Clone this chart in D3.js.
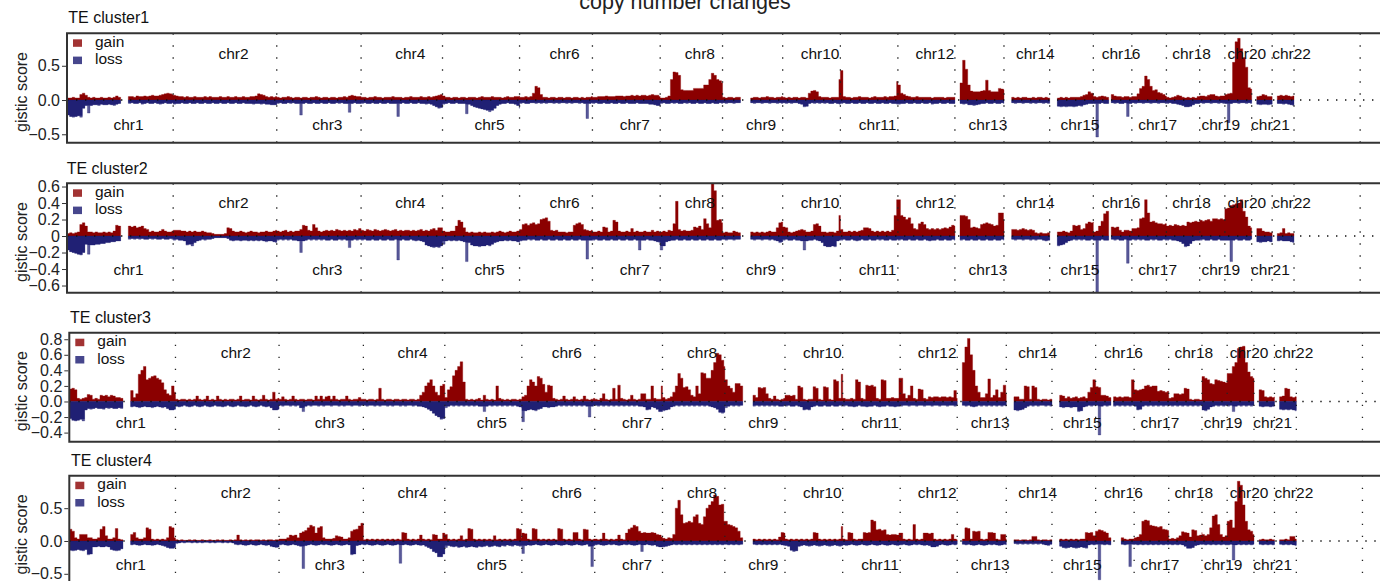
<!DOCTYPE html>
<html>
<head>
<meta charset="utf-8">
<script src="https://cdn.jsdelivr.net/npm/d3@7"></script>
<style>
  body { margin: 0; background: #fff; }
  svg { display: block; font-family: "Liberation Sans", Arial, Helvetica, sans-serif; }
</style>
</head>
<body>
<svg id="chart" width="1380" height="581"></svg>
<script>
// ---------------------------------------------------------------
// Genome layout (hg19, Mb). chrX / chrY carry no scores.
// ---------------------------------------------------------------
const _ = null; // no probes in this bin (centromere / acrocentric arm)
const chromNames = ["chr1","chr2","chr3","chr4","chr5","chr6","chr7","chr8","chr9","chr10","chr11","chr12",
  "chr13","chr14","chr15","chr16","chr17","chr18","chr19","chr20","chr21","chr22","chrX","chrY"];
const chromLengthMb = [249.3,243.2,198.0,191.2,180.9,171.1,159.1,146.4,141.2,135.5,135.0,133.9,
  115.2,107.3,102.5,90.4,81.2,78.1,59.1,63.0,48.1,51.3,155.3,59.4];
const binMb = 6; // each score below covers one 6 Mb bin along its chromosome

const panelTitles = ["TE cluster1","TE cluster2","TE cluster3","TE cluster4"];
const seriesNames = ["gain","loss"];

// GISTIC scores x100, one array per chromosome (chr1..chr22)
const gain1 = [
 [3,3,4,3,3,8,10,7,4,3,4,3,3,4,3,3,4,3,4,6,4,_,_,_,5,5,4,6,5,5,6,5,6,7,6,6,7,8,9,10,9,8],
 [7,6,5,5,4,5,4,4,5,4,4,4,5,4,5,4,4,4,5,4,4,5,4,4,5,4,4,5,4,4,5,5,6,9,8,7,5,4,5,4,5],
 [4,3,4,4,5,4,3,4,4,3,4,4,3,4,4,5,4,3,4,4,3,4,4,3,4,4,5,4,6,7,6,5,5],
 [4,4,3,4,4,5,4,4,3,4,4,4,5,4,4,4,3,4,4,5,4,4,4,5,4,4,5,4,5,6,7,8],
 [6,4,4,3,4,4,3,4,4,3,4,4,4,3,4,5,4,4,4,5,4,4,4,3,4,5,4,4,5,5,6],
 [4,4,5,4,5,10,20,18,8,4,4,3,4,4,3,4,4,3,4,4,3,4,4,3,4,3,4,4,5],
 [4,4,5,5,5,6,5,5,5,6,6,6,5,6,6,7,6,7,6,7,7,6,7,8,7,7,5],
 [3,3,4,6,30,41,40,36,15,14,14,14,14,17,17,17,17,22,22,30,39,36,30,28,25],
 [4,3,4,4,3,4,4,_,_,_,_,3,4,4,3,4,4,5,4,4,3,4,4,5],
 [4,3,4,3,4,4,3,4,4,3,10,13,14,12,5,4,4,4,3,4,4,4,30],
 [43,5,4,4,3,4,4,5,4,4,4,3,4,5,4,4,4,5,4,5,5,6,27],
 [22,10,8,6,5,4,4,5,4,4,4,4,4,3,4,4,4,4,3,4,4,4,4],
 [_,_,25,58,45,22,13,12,12,12,13,14,29,14,12,12,12,17,16,15],
 [_,_,_,4,3,4,3,4,4,3,3,4,3,4,4,3,4,3],
 [_,_,_,3,4,3,4,3,4,4,4,4,5,7,8,12,10,9],
 [5,4,5,6,5,4,_,8,6,5,5,4,5,5,4,5],
 [5,5,9,17,20,35,30,20,14,15,11,10,8,6],
 [4,3,4,5,7,6,4,3,4,3,4,3,5,5],
 [6,6,5,7,8,8,6,5,6,6],
 [8,9,10,55,85,90,75,62,48,18,16],
 [_,_,5,6,8,7,5,5,4],
 [_,_,6,7,6,7,6,5,6]
];
const loss1 = [
 [-22,-24,-25,-24,-23,-25,-12,-8,-19,-8,-7,-7,-8,-6,-7,-7,-6,-7,-8,-6,-5,_,_,_,-5,-4,-5,-5,-4,-6,-5,-4,-5,-5,-4,-5,-6,-5,-4,-5,-5,-4],
 [-6,-5,-5,-4,-5,-5,-4,-5,-5,-4,-5,-5,-4,-5,-5,-4,-5,-5,-4,-5,-5,-4,-5,-5,-4,-5,-5,-4,-5,-5,-5,-6,-5,-5,-6,-5,-6,-6,-7,-7,-7],
 [-5,-4,-5,-5,-4,-5,-4,-5,-5,-22,-5,-4,-5,-5,-4,-5,-5,-4,-5,-5,-4,-5,-5,-4,-5,-4,-5,-5,-18,-5,-4,-5,-5],
 [-5,-4,-5,-5,-4,-5,-5,-4,-5,-5,-4,-5,-5,-5,-24,-5,-4,-5,-5,-4,-5,-5,-4,-5,-5,-6,-5,-6,-8,-10,-12,-11],
 [-6,-5,-4,-5,-5,-4,-5,-5,-5,-20,-6,-8,-10,-11,-12,-13,-14,-15,-17,-15,-12,-8,-6,-5,-5,-4,-5,-5,-6,-8,-12],
 [-5,-4,-5,-5,-4,-4,-5,-4,-5,-4,-5,-4,-4,-5,-4,-5,-4,-4,-5,-4,-5,-4,-4,-5,-4,-5,-27,-5,-4],
 [-5,-4,-5,-5,-4,-5,-5,-4,-5,-5,-4,-5,-5,-4,-5,-5,-5,-4,-5,-5,-5,-5,-6,-6,-7,-8,-8],
 [-5,-4,-5,-5,-4,-5,-4,-5,-5,-4,-5,-4,-5,-5,-4,-5,-5,-4,-5,-5,-4,-5,-5,-4,-5],
 [-4,-5,-4,-4,-5,-4,-4,_,_,_,_,-4,-5,-4,-4,-5,-4,-4,-5,-4,-4,-5,-4,-5],
 [-4,-5,-4,-5,-4,-4,-5,-6,-10,-9,-5,-4,-5,-4,-5,-4,-5,-4,-5,-5,-4,-5,-6],
 [-5,-4,-5,-5,-4,-5,-5,-4,-5,-5,-4,-5,-5,-4,-5,-5,-4,-5,-5,-4,-5,-5,-6],
 [-6,-5,-5,-4,-5,-5,-4,-5,-5,-4,-5,-5,-4,-6,-5,-5,-4,-5,-5,-4,-5,-5,-5],
 [_,_,-5,-6,-5,-7,-7,-8,-7,-6,-5,-5,-4,-5,-5,-4,-5,-5,-4,-5],
 [_,_,_,-4,-5,-4,-4,-5,-4,-4,-5,-4,-5,-4,-4,-5,-4,-5],
 [_,_,_,-9,-10,-9,-10,-9,-9,-10,-9,-8,-9,-7,-6,-5,-5,-4],
 [-5,-54,-5,-4,-5,-5,_,-4,-5,-4,-5,-5,-4,-24,-5,-5],
 [-4,-5,-4,-4,-5,-4,-4,-5,-4,-4,-5,-4,-4,-5],
 [-5,-4,-5,-5,-6,-7,-8,-10,-10,-9,-7,-5,-5,-4],
 [-4,-5,-4,-4,-5,-4,-4,-5,-4,-5],
 [-5,-33,-5,-4,-4,-5,-4,-4,-5,-4,-5],
 [_,_,-6,-7,-6,-6,-7,-6,-6],
 [_,_,-5,-5,-6,-5,-6,-7,-8]
];
const gain2 = [
 [3,4,3,4,5,14,16,12,5,5,4,5,4,4,5,4,5,4,6,13,12,_,_,_,12,11,12,10,11,12,9,8,5,6,5,5,6,8,6,5,5,6],
 [7,7,7,6,6,5,6,5,6,5,5,6,5,4,4,3,2,2,2,2,3,10,9,6,5,5,6,5,4,5,6,5,5,4,5,5,6,5,5,6,7],
 [6,5,6,7,5,6,5,6,6,8,13,12,7,6,14,10,6,5,6,7,6,7,6,8,7,6,7,6,7,6,8,7,9],
 [7,6,8,7,6,8,7,6,7,8,7,6,7,8,6,7,6,7,7,6,7,6,7,8,6,7,6,8,9,7,10,10],
 [6,5,5,6,6,12,19,17,10,5,4,5,4,4,5,4,5,4,4,5,4,5,6,5,4,5,6,5,5,6,7],
 [8,14,15,13,15,16,14,15,20,21,22,18,7,6,7,5,5,5,4,5,5,13,15,16,14,8,7,6,7],
 [5,5,6,5,11,10,5,6,19,17,6,5,5,6,5,9,5,6,5,5,6,5,5,7,5,6,5],
 [5,6,5,7,6,15,42,8,6,7,6,6,7,11,10,12,8,21,15,10,64,55,19,20,16],
 [4,5,4,4,6,5,4,_,_,_,_,5,4,5,4,5,4,5,6,5,5,10,16,17],
 [11,10,5,4,5,6,7,8,7,5,5,6,14,15,12,5,5,4,5,5,4,6,25],
 [8,5,5,6,5,6,5,6,7,10,10,9,6,5,6,5,6,5,6,5,7,25,44],
 [44,25,23,20,22,15,9,8,15,17,14,9,8,9,8,9,8,9,10,9,11,13,12],
 [_,_,25,25,24,20,10,11,10,9,14,15,16,15,14,12,13,28,28,20],
 [_,_,_,8,8,7,8,9,8,7,8,7,4,3,4,3,3,4],
 [_,_,_,5,5,6,5,4,6,13,12,13,8,9,15,17,16,17],
 [5,6,12,18,27,30,_,11,10,11,7,5,7,7,6,5],
 [9,9,10,21,22,44,28,17,18,16,15,15,14,15],
 [12,13,12,14,13,12,13,12,17,16,17,18,17,16],
 [19,18,19,20,18,21,21,20,21,20],
 [33,34,37,38,39,40,44,30,23,12,10],
 [_,_,9,9,6,5,5,4,5],
 [_,_,3,4,9,3,4,3,3]
];
const loss2 = [
 [-17,-19,-20,-21,-22,-23,-20,-10,-22,-11,-11,-10,-10,-9,-9,-8,-8,-7,-7,-6,-6,_,_,_,-4,-3,-4,-3,-4,-3,-4,-4,-3,-4,-3,-4,-4,-3,-4,-4,-3,-4],
 [-5,-4,-5,-5,-6,-11,-10,-12,-8,-6,-5,-4,-5,-4,-4,-3,-2,-2,-2,-2,-2,-3,-5,-6,-5,-5,-6,-5,-5,-6,-5,-6,-5,-6,-5,-6,-7,-6,-6,-7,-8],
 [-5,-4,-5,-4,-5,-4,-5,-5,-6,-20,-6,-5,-4,-5,-4,-5,-4,-5,-4,-5,-5,-4,-5,-5,-4,-5,-4,-5,-14,-5,-4,-5,-4],
 [-5,-4,-5,-5,-4,-5,-5,-4,-5,-5,-4,-5,-5,-4,-29,-5,-4,-5,-5,-4,-5,-6,-5,-6,-7,-11,-12,-13,-14,-13,-14,-12],
 [-10,-6,-5,-6,-5,-6,-5,-6,-7,-31,-8,-11,-12,-12,-13,-12,-12,-11,-12,-10,-8,-7,-6,-6,-5,-6,-5,-6,-6,-7,-8],
 [-6,-5,-5,-4,-5,-4,-5,-5,-4,-5,-5,-4,-5,-5,-4,-5,-5,-4,-5,-5,-4,-5,-5,-4,-5,-5,-28,-5,-5],
 [-5,-4,-5,-5,-4,-5,-5,-4,-5,-5,-4,-5,-5,-4,-5,-5,-4,-5,-17,-5,-5,-4,-5,-5,-6,-7,-8],
 [-17,-12,-7,-6,-5,-5,-4,-5,-5,-4,-5,-5,-4,-5,-5,-4,-5,-5,-4,-5,-5,-4,-5,-5,-4],
 [-4,-5,-4,-4,-5,-4,-4,_,_,_,_,-4,-5,-4,-4,-5,-4,-4,-5,-4,-5,-6,-8,-7],
 [-5,-4,-5,-5,-4,-5,-5,-6,-17,-6,-5,-5,-4,-5,-6,-8,-12,-13,-13,-12,-13,-6,-5],
 [-5,-4,-5,-5,-4,-5,-6,-5,-4,-5,-5,-4,-5,-5,-4,-5,-4,-5,-5,-4,-5,-5,-4],
 [-5,-4,-5,-5,-4,-5,-5,-4,-5,-5,-4,-5,-6,-5,-5,-4,-5,-5,-4,-5,-5,-4,-5],
 [_,_,-5,-4,-5,-5,-4,-5,-5,-4,-5,-5,-4,-5,-5,-4,-5,-5,-4,-5],
 [_,_,_,-4,-5,-4,-4,-5,-4,-4,-5,-4,-5,-4,-4,-5,-6,-5],
 [_,_,_,-12,-11,-10,-8,-6,-5,-4,-5,-4,-5,-4,-5,-5,-4,-5],
 [-5,-69,-5,-4,-5,-5,_,-4,-5,-4,-5,-5,-4,-33,-5,-4],
 [-4,-5,-4,-5,-4,-5,-5,-4,-5,-4,-5,-5,-4,-5],
 [-5,-4,-5,-5,-6,-7,-9,-13,-12,-9,-6,-5,-5,-4],
 [-5,-4,-5,-5,-4,-5,-5,-4,-5,-5],
 [-5,-5,-31,-5,-4,-5,-5,-4,-5,-5,-4],
 [_,_,-7,-8,-7,-7,-6,-7,-7],
 [_,_,-6,-5,-6,-6,-6,-7,-8]
];
const gain3 = [
 [16,17,15,4,3,4,5,9,8,3,4,3,8,7,8,6,8,7,5,5,4,_,_,_,14,5,10,35,40,45,28,30,32,33,30,28,24,15,10,8,20,12],
 [3,2,3,3,2,3,2,3,7,3,2,3,7,2,3,2,7,3,2,3,2,3,3,2,3,7,2,3,3,2,7,3,2,3,8,3,2,3,12,3,4],
 [3,6,3,2,3,7,3,2,3,3,2,3,3,2,7,3,7,3,6,7,3,7,3,2,3,3,7,3,2,3,3,5,3],
 [3,2,3,3,2,3,17,3,2,3,3,2,3,3,2,3,3,2,3,3,2,3,8,12,20,24,28,20,12,8,20,22],
 [5,15,19,33,40,45,51,25,3,2,3,2,3,4,2,8,3,2,3,2,20,4,3,2,3,2,3,3,2,3,3],
 [6,8,20,28,25,20,32,30,22,12,21,20,4,3,2,3,7,3,2,3,6,3,2,3,7,3,2,3,4],
 [3,2,4,10,3,2,3,17,3,21,4,3,2,3,8,3,2,3,10,10,3,3,20,4,3,3,20],
 [5,3,4,6,12,20,36,30,18,19,15,8,6,20,10,37,36,30,30,40,50,62,60,53,45],
 [28,20,17,12,23,23,20,_,_,_,_,8,5,18,17,18,10,4,3,7,3,2,3,4],
 [8,8,7,8,3,20,18,3,2,3,3,19,17,3,2,19,18,3,2,28,26,4,35],
 [4,3,3,4,3,28,25,4,3,21,20,21,19,4,3,28,27,4,4,5,4,4,30],
 [30,10,4,8,20,4,3,16,15,4,3,6,5,6,6,5,6,6,5,6,5,14,4],
 [_,_,50,70,81,60,40,20,12,5,5,10,29,5,8,15,5,12,21,10],
 [_,_,_,6,6,3,3,20,19,3,20,18,3,2,3,3,2,3],
 [_,_,_,8,7,4,6,4,5,6,4,5,6,4,12,18,28,26],
 [19,18,8,8,7,5,_,6,5,6,5,6,6,5,28,25],
 [15,14,15,16,20,21,19,20,20,13,14,13,12,13],
 [4,5,10,10,9,10,17,16,3,2,3,3,2,3],
 [32,30,28,23,22,28,27,26,25,24],
 [36,36,45,50,68,70,71,50,38,32,30],
 [_,_,15,14,6,5,6,5,6],
 [_,_,6,7,17,16,6,5,6]
];
const loss3 = [
 [-22,-24,-25,-24,-23,-25,-11,-9,-10,-9,-8,-9,-9,-10,-8,-9,-8,-9,-9,-8,-9,_,_,_,-7,-6,-7,-8,-7,-6,-7,-7,-8,-7,-6,-7,-8,-7,-9,-11,-11,-10],
 [-6,-7,-6,-5,-6,-7,-6,-5,-6,-7,-6,-5,-6,-7,-6,-5,-6,-6,-7,-6,-5,-6,-7,-6,-5,-6,-6,-7,-6,-5,-6,-7,-6,-5,-6,-7,-6,-8,-11,-11,-10],
 [-5,-6,-5,-5,-6,-5,-6,-5,-8,-13,-6,-5,-6,-5,-5,-6,-5,-6,-5,-5,-6,-5,-5,-6,-5,-6,-5,-5,-6,-5,-5,-6,-5],
 [-5,-6,-5,-5,-6,-5,-6,-5,-5,-6,-5,-6,-5,-5,-6,-5,-6,-5,-5,-6,-5,-6,-6,-7,-8,-10,-12,-15,-18,-20,-23,-22],
 [-8,-6,-5,-6,-5,-6,-5,-6,-5,-6,-5,-6,-5,-6,-6,-13,-6,-5,-6,-5,-6,-5,-6,-5,-6,-5,-6,-5,-6,-7,-8],
 [-26,-12,-11,-10,-11,-12,-10,-9,-7,-7,-8,-7,-7,-6,-5,-6,-5,-6,-5,-6,-5,-6,-5,-6,-5,-6,-20,-6,-5],
 [-5,-6,-5,-6,-5,-6,-5,-6,-5,-6,-5,-6,-5,-6,-5,-6,-5,-6,-6,-7,-11,-10,-7,-8,-10,-13,-13],
 [-12,-11,-10,-7,-6,-5,-6,-5,-6,-5,-6,-5,-6,-5,-6,-5,-6,-5,-6,-7,-8,-10,-14,-15,-14],
 [-8,-6,-5,-6,-5,-6,-5,_,_,_,_,-6,-5,-6,-5,-6,-5,-6,-5,-6,-5,-6,-6,-5],
 [-6,-5,-6,-6,-5,-6,-7,-11,-10,-11,-7,-6,-5,-6,-6,-5,-6,-6,-5,-6,-6,-5,-6],
 [-6,-5,-6,-6,-7,-6,-5,-6,-6,-7,-6,-6,-5,-6,-7,-6,-6,-5,-6,-6,-7,-6,-6],
 [-6,-5,-5,-6,-5,-5,-6,-5,-5,-6,-5,-5,-6,-5,-5,-6,-5,-5,-6,-5,-5,-6,-5],
 [_,_,-5,-6,-5,-6,-7,-6,-5,-6,-5,-6,-5,-6,-5,-6,-5,-6,-5,-6],
 [_,_,_,-11,-12,-11,-10,-8,-6,-5,-6,-5,-6,-5,-5,-6,-5,-6],
 [_,_,_,-7,-8,-7,-7,-8,-7,-7,-13,-12,-7,-6,-5,-6,-5,-6],
 [-5,-43,-6,-5,-6,-5,_,-6,-5,-6,-5,-6,-5,-6,-5,-6],
 [-6,-11,-10,-6,-5,-6,-5,-6,-5,-6,-5,-6,-5,-6],
 [-5,-6,-5,-6,-5,-6,-5,-6,-5,-6,-5,-6,-5,-6],
 [-11,-12,-10,-7,-6,-5,-6,-5,-6,-5],
 [-6,-5,-13,-6,-5,-6,-5,-6,-5,-6,-5],
 [_,_,-6,-7,-6,-6,-7,-6,-6],
 [_,_,-10,-11,-10,-11,-10,-11,-12]
];
const gain4 = [
 [18,15,5,3,10,10,10,5,5,3,3,5,18,22,8,3,3,5,19,3,2,_,_,_,10,13,5,3,3,5,20,18,3,2,3,2,3,2,5,22,20,5],
 [2,1,2,1,1,2,1,2,1,1,2,1,1,2,1,1,2,1,2,1,1,2,1,2,9,2,1,2,1,2,1,2,2,1,2,1,2,2,1,2,2],
 [3,3,3,5,9,8,9,5,12,14,16,20,24,22,12,20,22,5,3,3,3,4,8,7,6,3,3,5,15,17,18,23,27],
 [2,3,2,3,2,3,2,3,2,3,2,3,2,3,2,13,12,3,2,3,2,3,9,3,2,3,2,10,9,3,3,12],
 [10,3,2,3,2,3,8,2,3,19,18,3,2,3,2,3,2,3,2,8,2,3,2,3,2,3,2,3,19,18,4],
 [12,11,3,2,19,18,3,2,3,2,3,2,3,2,19,18,3,2,3,2,13,13,3,2,18,17,3,2,3],
 [3,2,3,12,3,2,3,2,3,9,3,2,12,18,20,24,22,15,12,13,12,12,13,12,10,9,6],
 [4,3,5,4,10,50,62,40,27,28,30,28,37,40,27,25,37,50,55,60,70,68,55,56,30],
 [30,25,24,22,20,15,5,_,_,_,_,3,2,3,2,3,2,3,2,3,2,6,13,12],
 [3,2,3,2,3,2,3,2,3,2,3,13,12,3,2,3,2,3,2,3,2,3,22],
 [3,2,13,12,3,2,3,3,13,12,13,32,30,17,18,16,17,10,9,10,10,9,12],
 [12,3,2,3,2,25,3,2,3,12,12,11,12,3,2,3,2,3,2,3,10,3,2],
 [_,_,3,20,19,3,15,14,15,3,2,3,13,13,12,3,2,10,10,3],
 [_,_,_,2,2,1,2,2,1,2,7,7,2,1,2,2,1,2],
 [_,_,_,3,2,3,2,3,2,3,2,3,3,13,12,13,8,15],
 [15,17,16,14,12,5,_,_,_,_,5,3,2,3,3,2],
 [5,6,10,30,32,31,24,23,22,21,22,18,17,16],
 [3,4,3,5,8,14,13,12,6,17,16,8,9,13],
 [10,8,10,20,38,40,25,10,6,8],
 [30,32,20,60,91,85,55,30,17,15,10],
 [_,_,2,3,2,2,3,2,2],
 [_,_,2,2,3,2,7,7,3]
];
const loss4 = [
 [-14,-15,-14,-13,-14,-15,-13,-21,-20,-9,-9,-8,-9,-9,-8,-9,-13,-14,-15,-14,-12,_,_,_,-6,-5,-6,-7,-6,-5,-6,-6,-7,-6,-5,-6,-7,-8,-10,-11,-11,-10],
 [-4,-3,-2,-3,-2,-2,-3,-2,-3,-2,-3,-2,-2,-3,-2,-3,-2,-2,-3,-2,-3,-2,-3,-5,-6,-5,-6,-7,-6,-5,-6,-7,-6,-5,-6,-7,-6,-8,-9,-10,-9],
 [-6,-5,-6,-7,-6,-5,-6,-7,-8,-42,-7,-6,-5,-6,-7,-6,-5,-6,-5,-6,-7,-6,-5,-6,-7,-6,-5,-6,-21,-20,-7,-6,-5],
 [-6,-5,-6,-7,-6,-5,-6,-7,-6,-5,-6,-7,-6,-5,-34,-6,-5,-6,-7,-6,-5,-6,-7,-6,-8,-10,-12,-16,-18,-24,-24,-20],
 [-10,-7,-8,-9,-8,-10,-9,-8,-10,-9,-8,-9,-10,-8,-9,-8,-7,-9,-8,-7,-8,-9,-7,-8,-6,-7,-8,-6,-7,-8,-7],
 [-19,-7,-6,-7,-6,-5,-6,-7,-6,-5,-6,-7,-6,-5,-6,-7,-6,-5,-6,-7,-6,-5,-6,-7,-6,-5,-8,-39,-7],
 [-6,-5,-6,-7,-6,-5,-6,-5,-6,-7,-6,-5,-6,-5,-6,-7,-6,-5,-16,-6,-5,-6,-7,-6,-8,-9,-9],
 [-9,-8,-7,-6,-5,-6,-5,-6,-5,-6,-5,-6,-5,-6,-5,-6,-5,-6,-5,-6,-5,-6,-5,-6,-5],
 [-5,-6,-5,-6,-5,-6,-5,_,_,_,_,-5,-6,-5,-6,-5,-6,-5,-6,-5,-6,-5,-6,-7],
 [-7,-8,-14,-16,-15,-8,-7,-6,-7,-8,-7,-6,-7,-8,-7,-6,-7,-8,-7,-6,-7,-8,-7],
 [-6,-7,-6,-5,-6,-7,-6,-5,-6,-7,-6,-5,-6,-7,-6,-5,-6,-7,-6,-5,-6,-7,-6],
 [-6,-5,-6,-7,-6,-5,-6,-5,-6,-7,-6,-7,-9,-9,-8,-6,-5,-6,-7,-6,-5,-6,-5],
 [_,_,-5,-6,-5,-6,-7,-6,-5,-6,-7,-6,-5,-6,-5,-6,-7,-6,-5,-6],
 [_,_,_,-4,-5,-4,-5,-4,-5,-4,-5,-4,-5,-4,-5,-6,-7,-5],
 [_,_,_,-8,-10,-11,-10,-9,-10,-11,-10,-9,-10,-11,-6,-5,-6,-5],
 [-5,-59,-5,-6,-5,-6,_,_,_,_,-5,-6,-5,-39,-5,-6],
 [-5,-6,-5,-6,-5,-6,-5,-6,-5,-6,-5,-6,-5,-6],
 [-5,-6,-5,-6,-5,-6,-8,-11,-11,-10,-7,-6,-5,-6],
 [-5,-6,-5,-6,-5,-6,-5,-6,-5,-6],
 [-6,-5,-29,-6,-5,-6,-5,-6,-5,-6,-5],
 [_,_,-5,-6,-5,-6,-5,-6,-5],
 [_,_,-5,-6,-5,-6,-5,-6,-7]
];

// y-axis ticks per panel
const ticks1 = [-0.5, 0, 0.5],               tickLabels1 = ["\u22120.5","0.0","0.5"];
const ticks2 = [-0.6,-0.4,-0.2,0,0.2,0.4,0.6], tickLabels2 = ["\u22120.6","\u22120.4","\u22120.2","0","0.2","0.4","0.6"];
const ticks3 = [-0.4,-0.2,0,0.2,0.4,0.6,0.8], tickLabels3 = ["\u22120.4","\u22120.2","0.0","0.2","0.4","0.6","0.8"];
const ticks4 = [-0.5, 0, 0.5],               tickLabels4 = ["\u22120.5","0.0","0.5"];

// ---------------------------------------------------------------
// Layout
// ---------------------------------------------------------------
const pxPerMb = 0.4259;
const panels = [
  { title: panelTitles[0], gain: gain1, loss: loss1, ticks: ticks1, tickLabels: tickLabels1,
    left: 67,   top: 33.3,  height: 109.4, yMin: -0.623, yMax: 0.974, titleX: 68.3, titleY: 23.3, labTop: 58.5,  labBot: 129.5 },
  { title: panelTitles[1], gain: gain2, loss: loss2, ticks: ticks2, tickLabels: tickLabels2,
    left: 67,   top: 183.3, height: 109.4, yMin: -0.687, yMax: 0.639, titleX: 66.7, titleY: 174,   labTop: 207.5, labBot: 275 },
  { title: panelTitles[2], gain: gain3, loss: loss3, ticks: ticks3, tickLabels: tickLabels3,
    left: 69.3, top: 332.7, height: 109,   yMin: -0.517, yMax: 0.884, titleX: 70,   titleY: 323.3, labTop: 358.3, labBot: 428.3 },
  { title: panelTitles[3], gain: gain4, loss: loss4, ticks: ticks4, tickLabels: tickLabels4,
    left: 69.3, top: 475.7, height: 109.4, yMin: -0.672, yMax: 0.995, titleX: 71,   titleY: 466.3, labTop: 498.3, labBot: 570 }
];

const chromStartMb = [];
let acc = 0;
chromLengthMb.forEach(l => { chromStartMb.push(acc); acc += l; });
const genomeEndMb = acc;

const gainColor = "#8b0000";
const lossColor = "#191970";

const svg = d3.select("#chart");

// Main title
svg.append("text")
  .attr("x", 685).attr("y", 8.5)
  .attr("text-anchor", "middle")
  .attr("font-size", "21.5px")
  .attr("fill", "#222")
  .text("copy number changes");

// Step points for one score series; `pick` returns the drawn value of bin i.
function stepPoints(series, pick) {
  const pts = [];
  series.forEach((vals, c) => {
    const s = chromStartMb[c], len = chromLengthMb[c];
    for (let i = 0; i < vals.length; i++) {
      const a = i * binMb;
      if (a >= len) break;
      const b = Math.min(a + binMb, len);
      const v = vals[i] == null ? null : pick(vals, i) / 100;
      pts.push({ mb: s + a, v }, { mb: s + b, v });
    }
  });
  return pts;
}
const raw = (vals, i) => vals[i];
// part of a bin backed by a neighbouring bin (dense overlap looks darker)
const backed = (vals, i) => {
  const v = Math.abs(vals[i]);
  const p = vals[i - 1] == null ? 0 : Math.abs(vals[i - 1]);
  const n = vals[i + 1] == null ? 0 : Math.abs(vals[i + 1]);
  return Math.sign(vals[i]) * Math.min(v, Math.max(p, n));
};

panels.forEach((p, k) => {
  const g = svg.append("g");
  const right = 1400;
  const x = d3.scaleLinear().domain([0, genomeEndMb]).range([p.left, p.left + genomeEndMb * pxPerMb]);
  const y = d3.scaleLinear().domain([p.yMin, p.yMax]).range([p.top + p.height, p.top]);

  const clipId = "clip" + k;
  svg.append("clipPath").attr("id", clipId)
    .append("rect").attr("x", p.left).attr("y", p.top).attr("width", right - p.left).attr("height", p.height);

  const plot = g.append("g").attr("clip-path", `url(#${clipId})`);

  const area = d3.area()
    .defined(d => d.v != null)
    .x(d => x(d.mb))
    .y0(y(0))
    .y1(d => y(d.v));

  // gains
  plot.append("path")
    .attr("d", area(stepPoints(p.gain, raw)))
    .attr("fill", gainColor)
    .attr("stroke", "rgba(139,0,0,0.35)")
    .attr("stroke-width", 1)
    .attr("stroke-linejoin", "round");

  // losses: translucent full layer + overlapping layer
  plot.append("path")
    .attr("d", area(stepPoints(p.loss, raw)))
    .attr("fill", "rgba(25,25,112,0.72)")
    .attr("stroke", "rgba(25,25,112,0.3)")
    .attr("stroke-width", 1)
    .attr("stroke-linejoin", "round");
  plot.append("path")
    .attr("d", area(stepPoints(p.loss, backed)))
    .attr("fill", "rgba(25,25,112,0.9)");

  // zero line
  plot.append("line")
    .attr("x1", p.left).attr("x2", right)
    .attr("y1", y(0)).attr("y2", y(0))
    .attr("stroke", "#111").attr("stroke-width", 1.3)
    .attr("stroke-dasharray", "1.4,7.6");

  // chromosome boundaries
  plot.selectAll("line.bound")
    .data(chromStartMb.map((s, c) => s + chromLengthMb[c]))
    .join("line")
    .attr("class", "bound")
    .attr("x1", d => x(d)).attr("x2", d => x(d))
    .attr("y1", p.top).attr("y2", p.top + p.height)
    .attr("stroke", "#222").attr("stroke-width", 1.3)
    .attr("stroke-dasharray", "1.4,10.6");

  // chromosome names: even above, odd below
  g.selectAll("text.chrom")
    .data(chromNames.slice(0, 22))
    .join("text")
    .attr("class", "chrom")
    .attr("x", (d, c) => x(chromStartMb[c] + chromLengthMb[c] / 2) + 8.5)
    .attr("y", (d, c) => (c % 2 === 1 ? p.labTop : p.labBot))
    .attr("text-anchor", "middle")
    .attr("font-size", "15.5px")
    .attr("fill", "#111")
    .text(d => d);

  // frame (right side runs past the page edge)
  g.append("path")
    .attr("d", `M${right},${p.top}H${p.left}V${p.top + p.height}H${right}`)
    .attr("fill", "none")
    .attr("stroke", "#333")
    .attr("stroke-width", 2);

  // y axis
  const ax = g.append("g")
    .attr("transform", `translate(${p.left - 1},0)`)
    .call(d3.axisLeft(y).tickValues(p.ticks).tickFormat((d, i) => p.tickLabels[i]).tickSize(4).tickPadding(2));
  ax.select(".domain").remove();
  ax.selectAll(".tick line").attr("stroke", "#333");
  ax.selectAll(".tick text")
    .attr("font-size", "16px")
    .attr("font-family", "\"Liberation Sans\", Arial, Helvetica, sans-serif")
    .attr("fill", "#222");

  svg.append("text")
    .attr("transform", `translate(26.5,${p.top + p.height / 2 + 4}) rotate(-90)`)
    .attr("text-anchor", "middle")
    .attr("font-size", "16px")
    .attr("fill", "#222")
    .text("gistic score");

  // panel title
  g.append("text")
    .attr("x", p.titleX).attr("y", p.titleY)
    .attr("font-size", "16px")
    .attr("fill", "#111")
    .text(p.title);

  // legend
  const legend = g.append("g");
  const legendColors = ["rgba(139,0,0,0.8)", "rgba(25,25,112,0.8)"];
  seriesNames.forEach((name, j) => {
    legend.append("rect")
      .attr("x", p.left + 6).attr("y", p.top + 6 + j * 17.3)
      .attr("width", 9).attr("height", 7.5)
      .attr("fill", legendColors[j]);
    legend.append("text")
      .attr("x", p.left + 28).attr("y", p.top + 13.7 + j * 17.3)
      .attr("font-size", "15.5px")
      .attr("fill", "#111")
      .text(name);
  });
});
</script>
</body>
</html>
